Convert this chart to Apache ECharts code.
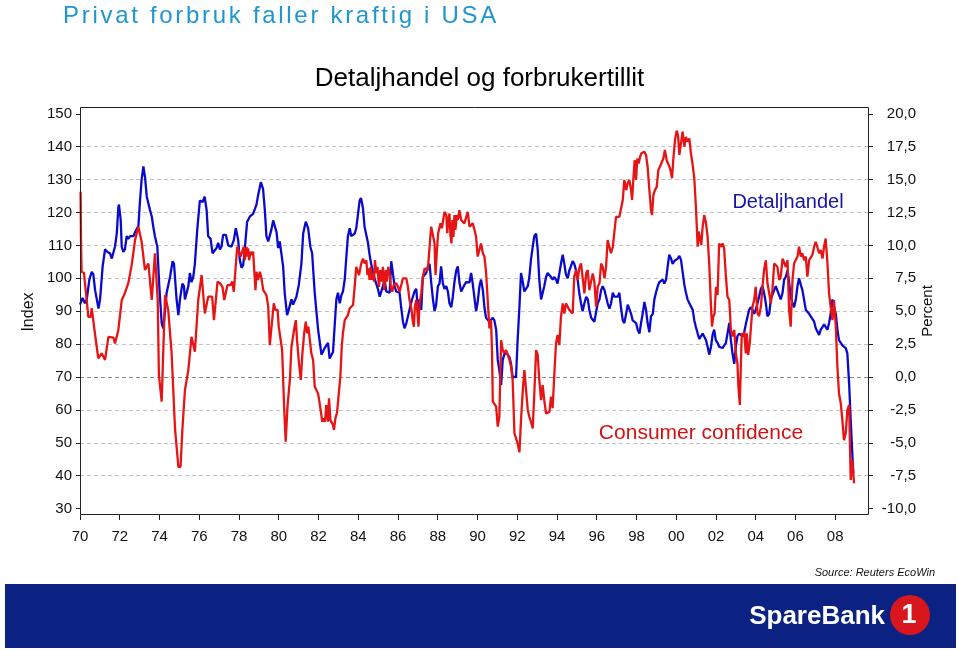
<!DOCTYPE html>
<html>
<head>
<meta charset="utf-8">
<script src="https://cdn.jsdelivr.net/npm/echarts@6/dist/echarts.min.js"></script>
<style>
html,body{margin:0;padding:0;background:#fff;}
#wrap{position:relative;width:959px;height:650px;}
#chart{position:absolute;left:0;top:0;width:959px;height:650px;}
#maintitle{position:absolute;left:63px;top:0px;font-family:"Liberation Sans",Arial,sans-serif;font-size:24px;line-height:30px;letter-spacing:2.7px;color:#1E96D2;white-space:nowrap;pointer-events:none;}
</style>
</head>
<body>
<div id="wrap">
<div id="chart"></div>
<div id="maintitle">Privat forbruk faller kraftig i USA</div>
</div>
<script>
// Consumer confidence (left axis, index)
const redT = [1970.03,1970.05,1970.08,1970.2,1970.25,1970.34,1970.42,1970.54,1970.59,1970.67,1970.75,1970.84,1970.92,1971.01,1971.09,1971.18,1971.26,1971.35,1971.43,1971.68,1971.76,1971.85,1971.93,1972.01,1972.1,1972.22,1972.32,1972.43,1972.52,1972.6,1972.69,1972.77,1972.85,1972.94,1973.02,1973.1,1973.19,1973.27,1973.36,1973.44,1973.52,1973.61,1973.69,1973.77,1973.86,1973.91,1973.97,1974.03,1974.11,1974.19,1974.28,1974.36,1974.44,1974.53,1974.61,1974.7,1974.78,1974.86,1974.95,1975.06,1975.15,1975.23,1975.28,1975.37,1975.45,1975.53,1975.61,1975.7,1975.78,1975.87,1975.95,1976.03,1976.12,1976.2,1976.28,1976.37,1976.45,1976.65,1976.74,1976.84,1976.92,1977.04,1977.17,1977.26,1977.34,1977.42,1977.51,1977.57,1977.66,1977.74,1977.82,1977.91,1978.01,1978.08,1978.16,1978.24,1978.29,1978.38,1978.41,1978.46,1978.51,1978.58,1978.63,1978.71,1978.76,1978.83,1978.88,1978.96,1979.05,1979.13,1979.22,1979.3,1979.38,1979.47,1979.55,1979.62,1979.67,1979.75,1979.83,1979.94,1980.0,1980.09,1980.17,1980.27,1980.35,1980.44,1980.56,1980.64,1980.77,1980.86,1980.92,1981.02,1981.11,1981.19,1981.28,1981.36,1981.43,1981.49,1981.56,1981.64,1981.73,1981.81,1981.9,1981.98,1982.06,1982.14,1982.19,1982.26,1982.33,1982.39,1982.48,1982.53,1982.6,1982.66,1982.73,1982.78,1982.85,1982.93,1983.03,1983.1,1983.17,1983.23,1983.32,1983.4,1983.48,1983.57,1983.74,1983.82,1983.9,1983.95,1984.04,1984.1,1984.15,1984.24,1984.32,1984.41,1984.46,1984.52,1984.57,1984.62,1984.69,1984.74,1984.79,1984.84,1984.91,1984.97,1985.04,1985.11,1985.18,1985.24,1985.31,1985.38,1985.44,1985.51,1985.58,1985.64,1985.71,1985.78,1985.85,1985.91,1986.0,1986.08,1986.16,1986.25,1986.33,1986.42,1986.5,1986.58,1986.67,1986.75,1986.8,1986.85,1986.92,1986.97,1987.03,1987.09,1987.17,1987.25,1987.34,1987.42,1987.5,1987.59,1987.67,1987.76,1987.84,1987.89,1987.96,1988.02,1988.09,1988.14,1988.21,1988.26,1988.34,1988.43,1988.48,1988.53,1988.59,1988.64,1988.69,1988.74,1988.79,1988.84,1988.89,1988.96,1989.01,1989.09,1989.18,1989.34,1989.43,1989.51,1989.6,1989.76,1989.85,1989.93,1990.01,1990.1,1990.18,1990.27,1990.35,1990.43,1990.52,1990.6,1990.68,1990.73,1990.77,1990.85,1990.94,1991.02,1991.1,1991.19,1991.27,1991.35,1991.44,1991.52,1991.61,1991.69,1991.77,1991.86,1991.94,1992.02,1992.11,1992.19,1992.28,1992.36,1992.44,1992.53,1992.61,1992.69,1992.78,1992.86,1992.95,1993.03,1993.11,1993.2,1993.28,1993.36,1993.45,1993.62,1993.7,1993.78,1993.87,1993.95,1994.03,1994.12,1994.2,1994.29,1994.37,1994.45,1994.62,1994.79,1994.87,1994.96,1995.04,1995.12,1995.21,1995.3,1995.38,1995.47,1995.55,1995.63,1995.72,1995.8,1995.88,1995.97,1996.05,1996.14,1996.22,1996.3,1996.39,1996.47,1996.55,1996.64,1996.72,1996.81,1996.89,1996.97,1997.14,1997.22,1997.31,1997.39,1997.48,1997.56,1997.64,1997.73,1997.78,1997.84,1997.91,1997.98,1998.04,1998.11,1998.18,1998.25,1998.31,1998.4,1998.48,1998.56,1998.65,1998.73,1998.78,1998.85,1998.93,1999.02,1999.1,1999.18,1999.27,1999.35,1999.43,1999.52,1999.6,1999.69,1999.79,1999.85,1999.94,2000.02,2000.09,2000.16,2000.24,2000.32,2000.41,2000.49,2000.57,2000.66,2000.74,2000.83,2000.91,2000.99,2001.08,2001.13,2001.19,2001.26,2001.33,2001.41,2001.5,2001.58,2001.66,2001.75,2001.8,2001.86,2001.93,2002.0,2002.08,2002.16,2002.25,2002.33,2002.41,2002.5,2002.58,2002.67,2002.75,2002.83,2002.92,2003.0,2003.08,2003.13,2003.2,2003.25,2003.3,2003.37,2003.42,2003.5,2003.55,2003.62,2003.7,2003.75,2003.84,2003.92,2004.0,2004.09,2004.17,2004.26,2004.34,2004.42,2004.51,2004.59,2004.68,2004.76,2004.84,2004.93,2005.01,2005.09,2005.18,2005.26,2005.35,2005.43,2005.51,2005.6,2005.68,2005.76,2005.85,2005.93,2006.02,2006.1,2006.18,2006.27,2006.35,2006.43,2006.52,2006.6,2006.69,2006.77,2006.85,2006.94,2007.02,2007.1,2007.19,2007.27,2007.36,2007.44,2007.52,2007.61,2007.69,2007.77,2007.86,2007.94,2008.03,2008.11,2008.19,2008.28,2008.36,2008.44,2008.53,2008.61,2008.7,2008.78,2008.86,2008.95];
const redV = [126.3,111.6,102.0,101.7,98.5,97.9,88.3,88.3,90.9,90.9,83.3,82.8,75.7,76.2,77.2,77.2,75.2,75.2,82.2,82.0,80.2,80.2,84.3,84.8,93.4,94.9,95.4,98.5,99.0,104.0,104.0,111.6,112.1,115.7,116.2,111.1,110.6,102.5,102.5,104.5,104.5,93.4,93.4,107.6,107.6,93.4,70.6,70.3,62.5,62.5,94.9,94.9,90.4,89.8,77.2,76.7,54.4,53.9,42.7,42.7,53.9,54.4,66.0,66.5,72.1,72.3,82.2,82.2,77.7,77.2,93.4,93.9,101.0,101.0,89.3,89.3,94.4,94.4,87.3,87.1,99.0,98.5,97.4,93.4,93.4,97.9,98.5,97.9,99.0,95.9,95.9,109.6,109.1,106.6,106.6,109.6,105.5,109.6,106.6,109.1,105.5,108.1,107.1,108.1,108.6,96.4,102.0,99.5,102.0,100.0,96.4,95.9,94.9,91.4,79.7,79.2,87.3,92.4,90.4,90.4,85.3,84.8,78.2,61.0,50.3,61.0,69.1,79.2,84.3,87.3,81.2,74.1,69.1,77.2,83.3,86.8,83.3,85.3,85.3,77.2,75.2,67.1,66.5,65.0,62.0,61.5,56.4,57.4,56.4,61.5,56.4,63.5,56.9,57.4,55.4,53.9,57.4,59.0,59.0,70.1,79.2,83.3,87.3,87.8,88.8,90.9,91.9,97.4,103.5,104.0,101.0,101.0,104.5,106.0,104.5,105.5,101.0,103.0,99.5,103.5,99.5,101.5,99.0,105.5,101.5,103.5,97.4,102.5,99.0,103.5,96.4,102.5,99.0,103.5,101.5,97.4,95.9,97.9,97.4,98.5,97.4,95.9,95.9,100.0,100.5,100.0,97.4,93.4,90.9,86.8,85.3,91.4,93.4,90.4,85.3,92.4,95.4,100.5,103.0,103.5,102.5,109.6,115.7,115.2,110.6,101.0,108.6,113.7,113.7,116.7,115.2,114.7,120.2,119.2,113.7,117.7,119.7,113.2,110.6,117.7,112.6,119.2,114.7,119.2,117.7,120.7,117.7,116.7,117.2,120.2,115.7,116.7,114.7,112.6,106.6,107.1,110.6,107.6,106.6,102.0,101.5,84.8,87.3,78.2,62.5,62.0,61.0,54.9,57.9,81.2,78.2,77.2,78.2,77.7,75.2,73.1,69.1,52.9,52.4,49.8,47.1,56.9,66.0,72.1,72.6,60.0,57.9,56.4,54.4,65.0,78.2,76.7,69.1,63.0,67.5,63.0,58.9,59.4,64.0,60.5,71.1,80.2,82.8,79.7,88.3,92.4,89.3,92.4,90.4,89.3,100.5,102.5,99.5,103.0,104.5,104.0,95.4,101.5,102.5,96.4,96.9,101.5,99.0,91.4,97.4,98.5,104.5,103.5,100.0,103.5,111.6,112.1,107.6,109.6,114.2,118.7,118.7,118.7,123.8,129.9,126.8,128.9,129.9,126.8,123.8,129.9,135.9,129.9,136.4,134.9,136.9,138.0,137.5,138.5,137.5,133.9,126.8,120.8,119.2,125.3,126.8,127.8,132.9,133.9,134.4,136.4,139.0,135.9,136.4,133.4,130.4,135.9,142.0,144.9,143.5,137.5,138.0,144.6,140.0,143.0,141.5,142.5,138.0,134.4,130.4,121.8,109.6,114.2,114.7,110.1,115.7,119.2,116.7,112.6,104.5,91.4,85.3,88.3,89.3,97.4,94.9,110.6,109.6,110.6,109.1,100.5,94.4,93.4,84.3,82.3,84.3,77.2,74.1,67.0,61.5,73.1,83.3,82.2,83.8,77.2,83.3,76.7,80.2,84.3,91.4,93.4,97.4,89.3,88.5,91.4,97.4,102.5,105.5,98.5,95.4,92.4,96.4,104.5,104.5,103.5,99.5,100.5,106.0,105.5,103.5,105.5,90.4,85.3,99.5,104.5,104.5,106.6,109.6,106.6,107.6,105.5,106.6,100.5,105.5,105.0,107.1,109.6,111.1,110.6,107.6,108.6,106.0,109.6,112.1,104.5,95.4,91.4,87.3,93.4,85.3,73.1,65.0,62.0,56.9,50.8,52.9,59.9,61.5,38.7,44.8,37.7];

// Detaljhandel, retail sales y/y (right axis, percent)
const blueT = [1970.0,1970.13,1970.25,1970.34,1970.47,1970.59,1970.67,1970.76,1970.93,1971.01,1971.14,1971.26,1971.38,1971.51,1971.6,1971.76,1971.85,1971.93,1971.96,1972.05,1972.1,1972.18,1972.26,1972.35,1972.43,1972.52,1972.6,1972.69,1972.77,1972.94,1973.02,1973.1,1973.19,1973.27,1973.36,1973.44,1973.52,1973.61,1973.69,1973.77,1973.89,1973.99,1974.11,1974.19,1974.28,1974.36,1974.53,1974.66,1974.73,1974.86,1974.95,1975.03,1975.15,1975.23,1975.28,1975.37,1975.45,1975.53,1975.61,1975.7,1975.78,1975.9,1976.03,1976.17,1976.27,1976.37,1976.45,1976.57,1976.67,1976.75,1976.87,1976.95,1977.04,1977.12,1977.2,1977.34,1977.46,1977.62,1977.74,1977.84,1977.96,1978.04,1978.13,1978.21,1978.29,1978.41,1978.55,1978.71,1978.88,1978.96,1979.1,1979.21,1979.3,1979.38,1979.47,1979.55,1979.63,1979.72,1979.8,1979.89,1979.97,1980.05,1980.14,1980.22,1980.3,1980.42,1980.5,1980.64,1980.72,1980.81,1980.89,1981.01,1981.06,1981.14,1981.23,1981.36,1981.48,1981.59,1981.68,1981.81,1981.98,1982.15,1982.31,1982.48,1982.56,1982.65,1982.73,1982.81,1982.9,1982.98,1983.07,1983.15,1983.23,1983.32,1983.4,1983.48,1983.57,1983.65,1983.74,1983.82,1983.9,1983.99,1984.07,1984.14,1984.24,1984.32,1984.41,1984.49,1984.57,1984.66,1984.74,1984.82,1984.91,1984.99,1985.08,1985.16,1985.24,1985.33,1985.41,1985.58,1985.66,1985.75,1985.83,1985.91,1986.0,1986.08,1986.16,1986.25,1986.33,1986.42,1986.5,1986.58,1986.67,1986.75,1986.83,1986.92,1987.0,1987.09,1987.17,1987.25,1987.42,1987.5,1987.59,1987.67,1987.76,1987.84,1987.92,1988.01,1988.09,1988.17,1988.26,1988.34,1988.43,1988.51,1988.59,1988.68,1988.76,1988.84,1988.93,1989.01,1989.09,1989.18,1989.26,1989.34,1989.43,1989.6,1989.68,1989.76,1989.85,1989.93,1990.01,1990.1,1990.18,1990.27,1990.35,1990.43,1990.6,1990.77,1990.85,1990.94,1991.02,1991.1,1991.19,1991.27,1991.35,1991.44,1991.52,1991.61,1991.69,1991.77,1991.86,1991.94,1992.02,1992.11,1992.19,1992.28,1992.36,1992.44,1992.53,1992.61,1992.69,1992.78,1992.86,1992.95,1993.03,1993.11,1993.2,1993.28,1993.36,1993.45,1993.53,1993.7,1993.78,1993.87,1993.95,1994.03,1994.12,1994.2,1994.29,1994.37,1994.45,1994.54,1994.62,1994.7,1994.79,1994.87,1994.96,1995.04,1995.12,1995.21,1995.29,1995.38,1995.47,1995.55,1995.63,1995.72,1995.88,1995.97,1996.05,1996.14,1996.22,1996.3,1996.39,1996.47,1996.55,1996.64,1996.72,1996.81,1996.89,1996.97,1997.06,1997.14,1997.22,1997.31,1997.39,1997.48,1997.56,1997.64,1997.73,1997.81,1997.89,1997.98,1998.06,1998.15,1998.23,1998.31,1998.4,1998.48,1998.56,1998.65,1998.73,1998.82,1998.9,1998.98,1999.07,1999.15,1999.32,1999.4,1999.49,1999.57,1999.65,1999.74,1999.82,1999.9,1999.99,2000.07,2000.16,2000.24,2000.32,2000.41,2000.49,2000.57,2000.66,2000.74,2000.83,2000.91,2000.99,2001.08,2001.16,2001.24,2001.33,2001.41,2001.5,2001.58,2001.66,2001.75,2001.83,2001.91,2001.99,2002.08,2002.16,2002.25,2002.33,2002.41,2002.5,2002.58,2002.67,2002.75,2002.83,2002.92,2003.0,2003.08,2003.17,2003.25,2003.34,2003.42,2003.5,2003.59,2003.67,2003.75,2003.84,2003.92,2004.0,2004.09,2004.17,2004.26,2004.34,2004.42,2004.51,2004.59,2004.68,2004.76,2004.84,2004.93,2005.01,2005.09,2005.18,2005.26,2005.35,2005.43,2005.51,2005.6,2005.68,2005.76,2005.85,2005.93,2006.02,2006.1,2006.18,2006.27,2006.35,2006.43,2006.52,2006.6,2006.69,2006.77,2006.85,2006.94,2007.02,2007.1,2007.19,2007.27,2007.36,2007.44,2007.52,2007.61,2007.69,2007.77,2007.86,2007.94,2008.03,2008.11,2008.19,2008.28,2008.36,2008.44,2008.53,2008.61,2008.7,2008.78,2008.86,2008.91];
const blueV = [5.5,6.0,5.6,5.9,7.4,8.0,7.8,6.6,5.2,5.9,8.4,9.7,9.5,9.4,9.0,9.9,10.9,12.9,13.1,11.9,9.9,9.5,9.7,10.7,10.5,10.7,10.8,10.7,11.0,11.5,13.4,15.0,16.0,15.2,13.7,13.2,12.7,12.2,11.4,10.7,9.9,6.9,4.1,3.7,5.1,6.4,7.6,8.8,8.6,5.9,4.7,5.9,7.1,6.9,5.9,5.9,6.9,7.9,7.2,7.6,8.6,11.2,13.4,13.3,13.7,12.7,10.7,10.5,9.4,9.3,9.8,10.2,9.7,9.9,10.8,10.8,10.0,9.9,10.4,11.3,10.4,8.9,8.3,8.5,9.7,11.8,12.2,12.4,13.1,13.8,14.8,14.3,12.7,10.7,10.3,10.2,11.2,11.9,11.8,11.0,9.8,10.3,10.2,8.4,6.4,4.7,5.1,5.9,5.5,5.6,6.1,7.0,7.0,8.6,10.9,11.8,11.3,9.9,9.4,6.4,3.6,1.7,2.2,2.6,1.4,1.3,1.9,3.8,5.9,6.4,5.6,6.2,6.5,7.4,9.1,10.7,11.3,10.7,10.7,10.9,11.3,12.4,13.4,13.6,12.8,11.4,11.3,10.2,9.3,8.5,8.4,7.5,7.4,6.7,6.1,6.5,6.9,7.4,6.5,6.4,8.8,8.8,6.9,6.5,6.6,6.4,5.3,4.2,3.7,4.1,4.6,4.7,5.7,6.1,6.5,6.7,5.1,5.9,5.1,7.6,7.9,8.4,8.6,7.2,5.9,5.0,5.5,6.9,7.1,8.4,7.1,6.7,6.9,6.5,5.6,5.3,6.1,7.2,8.1,8.4,7.2,6.5,6.6,7.0,7.2,7.2,7.9,7.1,6.0,5.0,5.7,6.9,7.4,6.6,5.3,4.5,4.2,4.5,4.3,3.6,1.3,0.5,-0.6,1.3,1.7,1.9,1.9,1.5,1.0,0.0,-0.1,0.0,2.8,5.3,7.9,7.2,6.5,6.6,6.9,7.6,8.9,9.9,10.7,10.9,9.7,7.4,5.9,5.9,6.9,7.6,7.9,7.6,7.4,7.6,7.4,7.1,7.2,8.6,9.3,8.6,7.8,7.5,8.1,8.4,8.8,8.6,8.1,7.4,6.4,5.6,5.0,5.6,6.1,5.9,5.1,4.5,4.2,4.3,5.6,5.9,6.6,6.9,6.6,6.1,5.6,5.2,5.6,6.4,6.1,6.2,6.1,6.4,5.3,4.3,4.1,4.8,5.5,5.6,4.8,4.3,4.2,4.1,3.6,3.3,4.1,4.8,5.7,5.1,4.1,3.4,4.6,4.8,5.9,6.4,6.9,7.2,7.4,7.1,7.4,8.4,9.3,9.0,8.6,8.8,8.9,9.0,9.2,8.9,8.0,7.0,6.4,5.9,5.6,5.5,5.1,4.3,3.8,3.3,2.9,2.8,3.3,3.2,2.8,2.3,1.7,2.3,3.2,3.6,2.8,2.6,2.3,2.4,2.2,2.1,2.6,3.3,4.1,2.8,1.8,1.0,2.3,3.1,3.3,3.4,3.1,3.4,4.0,4.6,5.1,5.3,5.1,4.8,5.1,5.6,6.1,6.7,6.9,6.4,5.6,4.6,4.8,5.9,5.9,6.6,6.9,7.0,6.2,5.9,6.4,7.4,7.6,8.1,7.2,6.1,5.6,5.3,5.9,6.9,7.5,7.0,6.6,5.9,5.1,5.1,4.8,4.6,4.7,4.2,3.7,3.6,3.2,3.6,3.8,4.0,3.8,3.6,4.1,4.8,5.9,5.3,4.8,3.6,2.8,2.6,2.4,2.4,2.2,1.8,-0.5,-3.3,-5.8,-7.3];

const xTicks = [1970,1972,1974,1976,1978,1980,1982,1984,1986,1988,1990,1992,1994,1996,1998,2000,2002,2004,2006,2008];

const FONT = '"Liberation Sans", Arial, Helvetica, sans-serif';
const chart = echarts.init(document.getElementById('chart'), null, {renderer:'canvas'});

const redData = redT.map((t,i)=>[t, redV[i]]);
const blueData = blueT.map((t,i)=>[t, blueV[i]]);

const option = {
  animation: false,
  backgroundColor: '#ffffff',
  title: {
    text: 'Detaljhandel og forbrukertillit',
    left: 'center',
    top: 61,
    textStyle: {fontFamily: FONT, fontSize: 26, fontWeight: 'normal', color: '#000'}
  },
  grid: {left: 80, right: 90, top: 113.8, bottom: 141.4, containLabel: false},
  xAxis: {
    type: 'value', min: 1970, max: 2009.7, offset: 6.4,
    axisLine: {show: false, onZero: false},
    axisTick: {show: true, length: 5, customValues: xTicks, lineStyle: {color: '#222'}},
    axisLabel: {customValues: xTicks, margin: 14, fontFamily: FONT, fontSize: 15, color: '#111',
      formatter: v => String(Math.round(v) % 100).padStart(2, '0')},
    splitLine: {show: false}
  },
  yAxis: [
    {
      type: 'value', min: 30, max: 150, interval: 10, position: 'left',
      axisLine: {show: false, onZero: false},
      axisTick: {show: true, length: 4, lineStyle: {color: '#222'}},
      axisLabel: {margin: 8, fontFamily: FONT, fontSize: 15, color: '#111'},
      splitLine: {show: true, showMinLine: false, showMaxLine: false, lineStyle: {color: '#c4c4c4', type: [4, 3], width: 1}}
    },
    {
      type: 'value', min: -10, max: 20, interval: 2.5, position: 'right',
      axisLine: {show: false, onZero: false},
      axisTick: {show: true, length: 4, lineStyle: {color: '#222'}},
      axisLabel: {margin: 47, align: 'right', fontFamily: FONT, fontSize: 15, color: '#111',
        formatter: v => v.toFixed(1).replace('.', ',')},
      splitLine: {show: false}
    }
  ],
  series: [
    {
      name: 'Detaljhandel', type: 'line', yAxisIndex: 1, data: blueData,
      showSymbol: false, symbol: 'none', smooth: false,
      lineStyle: {color: '#0A0ACD', width: 2.3}, z: 3,
      markLine: {silent: true, symbol: 'none', label: {show: false},
        lineStyle: {color: '#8a8a8a', type: [4, 3], width: 1}, data: [{yAxis: 0}], z: 1}
    },
    {
      name: 'Consumer confidence', type: 'line', yAxisIndex: 0, data: redData,
      showSymbol: false, symbol: 'none', smooth: false,
      lineStyle: {color: '#E61414', width: 2.3}, z: 4
    }
  ],
  graphic: [
    {type: 'rect', shape: {x: 80.5, y: 107.5, width: 788, height: 407}, style: {fill: 'none', stroke: '#222', lineWidth: 1}, z: 10, silent: true},
    {type: 'text', x: 29, y: 312, rotation: Math.PI / 2, style: {text: 'Index', font: '16px ' + FONT, fill: '#111', textAlign: 'center', textVerticalAlign: 'middle'}},
    {type: 'text', x: 928, y: 311, rotation: Math.PI / 2, style: {text: 'Percent', font: '15px ' + FONT, fill: '#111', textAlign: 'center', textVerticalAlign: 'middle'}},
    {type: 'text', x: 788, y: 202, style: {text: 'Detaljhandel', font: '20px ' + FONT, fill: '#1414A8', textAlign: 'center', textVerticalAlign: 'middle'}},
    {type: 'text', x: 701, y: 433, style: {text: 'Consumer confidence', font: '21px ' + FONT, fill: '#D41010', textAlign: 'center', textVerticalAlign: 'middle'}},
    {type: 'text', x: 935, y: 573, style: {text: 'Source: Reuters EcoWin', font: 'italic 11px ' + FONT, fill: '#111', textAlign: 'right', textVerticalAlign: 'middle'}},
    {type: 'rect', shape: {x: 5, y: 584, width: 951, height: 64}, style: {fill: '#0B2282'}, silent: true},
    {type: 'text', x: 885, y: 617, style: {text: 'SpareBank', font: 'bold 26px ' + FONT, fill: '#ffffff', textAlign: 'right', textVerticalAlign: 'middle'}},
    {type: 'circle', shape: {cx: 910, cy: 615, r: 20}, style: {fill: '#D8161E'}},
    {type: 'text', x: 909, y: 616, style: {text: '1', font: 'bold 27px ' + FONT, fill: '#ffffff', textAlign: 'center', textVerticalAlign: 'middle'}}
  ]
};
chart.setOption(option);
</script>
</body>
</html>
